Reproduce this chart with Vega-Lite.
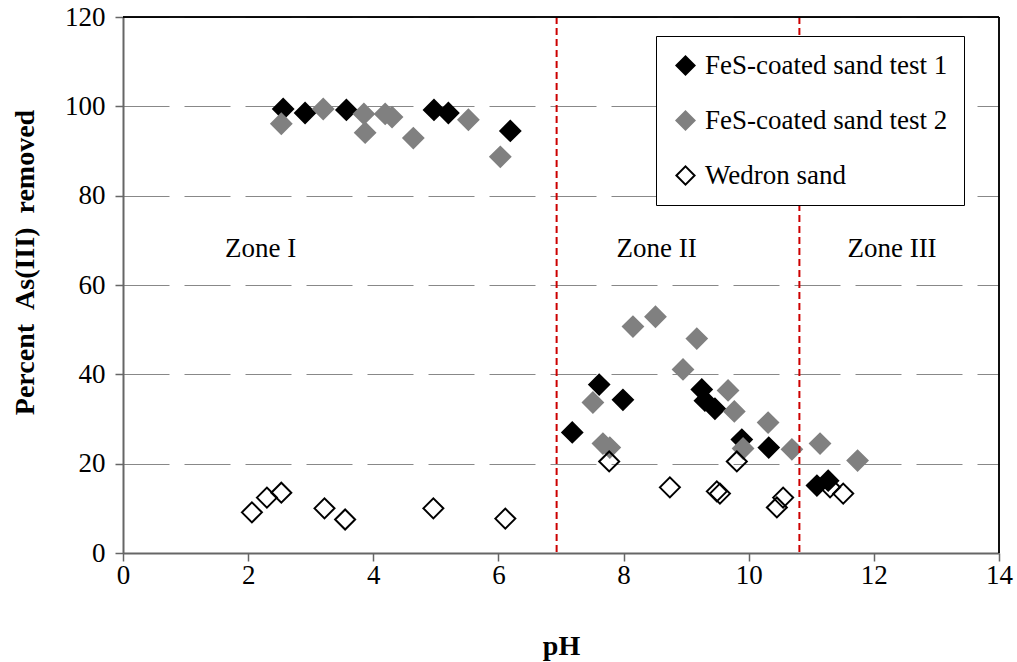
{
  "$schema": "https://vega.github.io/schema/vega-lite/v6.json",
  "width": 876,
  "height": 536,
  "autosize": "none",
  "padding": {"left": 123, "top": 17, "right": 18, "bottom": 109},
  "background": "white",
  "config": {
    "font": "Liberation Serif",
    "view": {"stroke": null},
    "axis": {"labelColor": "black", "titleColor": "black", "labelFont": "Liberation Serif", "titleFont": "Liberation Serif"},
    "legend": {"labelFont": "Liberation Serif", "titleFont": "Liberation Serif"},
    "text": {"font": "Liberation Serif"}
  },
  "datasets": {
    "points": [
      {"series": "FeS-coated sand test 1", "pH": 2.56, "removed": 99.4},
      {"series": "FeS-coated sand test 1", "pH": 2.91, "removed": 98.5},
      {"series": "FeS-coated sand test 1", "pH": 3.57, "removed": 99.2},
      {"series": "FeS-coated sand test 1", "pH": 4.97, "removed": 99.2},
      {"series": "FeS-coated sand test 1", "pH": 5.20, "removed": 98.5},
      {"series": "FeS-coated sand test 1", "pH": 6.19, "removed": 94.5},
      {"series": "FeS-coated sand test 1", "pH": 7.18, "removed": 27.0},
      {"series": "FeS-coated sand test 1", "pH": 7.61, "removed": 37.7},
      {"series": "FeS-coated sand test 1", "pH": 7.99, "removed": 34.3},
      {"series": "FeS-coated sand test 1", "pH": 9.25, "removed": 36.6},
      {"series": "FeS-coated sand test 1", "pH": 9.30, "removed": 34.1},
      {"series": "FeS-coated sand test 1", "pH": 9.46, "removed": 32.3},
      {"series": "FeS-coated sand test 1", "pH": 9.89, "removed": 25.4},
      {"series": "FeS-coated sand test 1", "pH": 10.32, "removed": 23.6},
      {"series": "FeS-coated sand test 1", "pH": 11.09, "removed": 15.1},
      {"series": "FeS-coated sand test 1", "pH": 11.27, "removed": 16.2},
      {"series": "FeS-coated sand test 2", "pH": 2.53, "removed": 96.1},
      {"series": "FeS-coated sand test 2", "pH": 3.20, "removed": 99.4},
      {"series": "FeS-coated sand test 2", "pH": 3.85, "removed": 98.3},
      {"series": "FeS-coated sand test 2", "pH": 3.87, "removed": 94.1},
      {"series": "FeS-coated sand test 2", "pH": 4.19, "removed": 98.3},
      {"series": "FeS-coated sand test 2", "pH": 4.30, "removed": 97.6},
      {"series": "FeS-coated sand test 2", "pH": 4.64, "removed": 92.9},
      {"series": "FeS-coated sand test 2", "pH": 5.52, "removed": 97.0},
      {"series": "FeS-coated sand test 2", "pH": 6.03, "removed": 88.7},
      {"series": "FeS-coated sand test 2", "pH": 7.51, "removed": 33.7},
      {"series": "FeS-coated sand test 2", "pH": 7.67, "removed": 24.5},
      {"series": "FeS-coated sand test 2", "pH": 7.78, "removed": 23.6},
      {"series": "FeS-coated sand test 2", "pH": 8.15, "removed": 50.7},
      {"series": "FeS-coated sand test 2", "pH": 8.51, "removed": 52.9},
      {"series": "FeS-coated sand test 2", "pH": 8.95, "removed": 41.1},
      {"series": "FeS-coated sand test 2", "pH": 9.17, "removed": 48.0},
      {"series": "FeS-coated sand test 2", "pH": 9.67, "removed": 36.4},
      {"series": "FeS-coated sand test 2", "pH": 9.77, "removed": 31.7},
      {"series": "FeS-coated sand test 2", "pH": 9.91, "removed": 23.4},
      {"series": "FeS-coated sand test 2", "pH": 10.31, "removed": 29.2},
      {"series": "FeS-coated sand test 2", "pH": 10.69, "removed": 23.2},
      {"series": "FeS-coated sand test 2", "pH": 11.14, "removed": 24.5},
      {"series": "FeS-coated sand test 2", "pH": 11.74, "removed": 20.7},
      {"series": "Wedron sand", "pH": 2.06, "removed": 9.1},
      {"series": "Wedron sand", "pH": 2.30, "removed": 12.4},
      {"series": "Wedron sand", "pH": 2.53, "removed": 13.5},
      {"series": "Wedron sand", "pH": 3.22, "removed": 10.0},
      {"series": "Wedron sand", "pH": 3.55, "removed": 7.5},
      {"series": "Wedron sand", "pH": 4.96, "removed": 10.0},
      {"series": "Wedron sand", "pH": 6.11, "removed": 7.7},
      {"series": "Wedron sand", "pH": 7.77, "removed": 20.5},
      {"series": "Wedron sand", "pH": 8.74, "removed": 14.7},
      {"series": "Wedron sand", "pH": 9.49, "removed": 13.8},
      {"series": "Wedron sand", "pH": 9.54, "removed": 13.3},
      {"series": "Wedron sand", "pH": 9.81, "removed": 20.5},
      {"series": "Wedron sand", "pH": 10.45, "removed": 10.2},
      {"series": "Wedron sand", "pH": 10.55, "removed": 12.4},
      {"series": "Wedron sand", "pH": 11.30, "removed": 14.7},
      {"series": "Wedron sand", "pH": 11.51, "removed": 13.3}
    ],
    "zones": [
      {"zone": "Zone I", "pH": 2.2, "removed": 68},
      {"zone": "Zone II", "pH": 8.53, "removed": 68},
      {"zone": "Zone III", "pH": 12.29, "removed": 68}
    ],
    "boundaries": [
      {"boundary": 6.93},
      {"boundary": 10.81}
    ]
  },
  "layer": [
    {
      "data": {"name": "points"},
      "mark": {"type": "point", "shape": "diamond", "filled": false, "size": 400, "strokeWidth": 2, "opacity": 1},
      "encoding": {
        "x": {
          "field": "pH", "type": "quantitative",
          "scale": {"domain": [0, 14], "nice": false, "zero": false},
          "axis": {
            "title": "pH", "values": [0, 2, 4, 6, 8, 10, 12, 14], "format": "d", "grid": false,
            "domainColor": "#666666", "domainWidth": 2,
            "tickColor": "#666666", "tickSize": 8, "tickWidth": 1.5,
            "labelFont": "Liberation Serif", "labelFontSize": 27, "labelPadding": 1, "labelFlush": false,
            "titleFont": "Liberation Serif", "titleFontSize": 28, "titleFontWeight": "bold", "titlePadding": 44
          }
        },
        "y": {
          "field": "removed", "type": "quantitative",
          "scale": {"domain": [0, 120], "nice": false, "zero": false},
          "axis": {
            "title": "Percent \u00a0As(III) \u00a0removed", "values": [0, 20, 40, 60, 80, 100, 120], "format": "d",
            "grid": true, "gridColor": "#888888", "gridDash": [46, 15], "gridWidth": 1,
            "domainColor": "#666666", "domainWidth": 2,
            "tickColor": "#666666", "tickSize": 8, "tickWidth": 1.5,
            "labelFont": "Liberation Serif", "labelFontSize": 27, "labelPadding": 10, "labelFlush": false,
            "titleFont": "Liberation Serif", "titleFontSize": 28, "titleFontWeight": "bold", "titlePadding": 25, "titleY": 245
          }
        },
        "fill": {
          "field": "series", "type": "nominal",
          "scale": {"domain": ["FeS-coated sand test 1", "FeS-coated sand test 2", "Wedron sand"], "range": ["#000000", "#808080", "transparent"]},
          "legend": {
            "title": null, "orient": "none", "legendX": 533, "legendY": 19,
            "padding": 16, "strokeColor": "black", "fillColor": "white",
            "symbolType": "diamond", "symbolSize": 330, "symbolStrokeWidth": 2,
            "labelFont": "Liberation Serif", "labelFontSize": 27, "labelColor": "black", "labelOffset": 6, "rowPadding": 27, "labelLimit": 400
          }
        },
        "stroke": {
          "field": "series", "type": "nominal",
          "scale": {"domain": ["FeS-coated sand test 1", "FeS-coated sand test 2", "Wedron sand"], "range": ["#000000", "#808080", "#000000"]},
          "legend": {
            "title": null, "orient": "none", "legendX": 533, "legendY": 19,
            "padding": 16, "strokeColor": "black", "fillColor": "white",
            "symbolType": "diamond", "symbolSize": 330, "symbolStrokeWidth": 2,
            "labelFont": "Liberation Serif", "labelFontSize": 27, "labelColor": "black", "labelOffset": 6, "rowPadding": 27, "labelLimit": 400
          }
        }
      }
    },
    {
      "data": {"name": "boundaries"},
      "mark": {"type": "rule", "color": "#cc0000", "strokeWidth": 2, "strokeDash": [7, 4]},
      "encoding": {
        "x": {"field": "boundary", "type": "quantitative"}
      }
    },
    {
      "data": {"name": "boundaries"},
      "mark": {"type": "rule", "color": "black", "strokeWidth": 1.5},
      "encoding": {
        "y": {"datum": 120, "type": "quantitative"}
      }
    },
    {
      "data": {"name": "boundaries"},
      "mark": {"type": "rule", "color": "black", "strokeWidth": 1.5},
      "encoding": {
        "x": {"datum": 14, "type": "quantitative"}
      }
    },
    {
      "data": {"name": "zones"},
      "mark": {"type": "text", "font": "Liberation Serif", "fontSize": 27, "color": "black", "baseline": "middle", "align": "center"},
      "encoding": {
        "x": {"field": "pH", "type": "quantitative"},
        "y": {"field": "removed", "type": "quantitative"},
        "text": {"field": "zone"}
      }
    }
  ]
}
